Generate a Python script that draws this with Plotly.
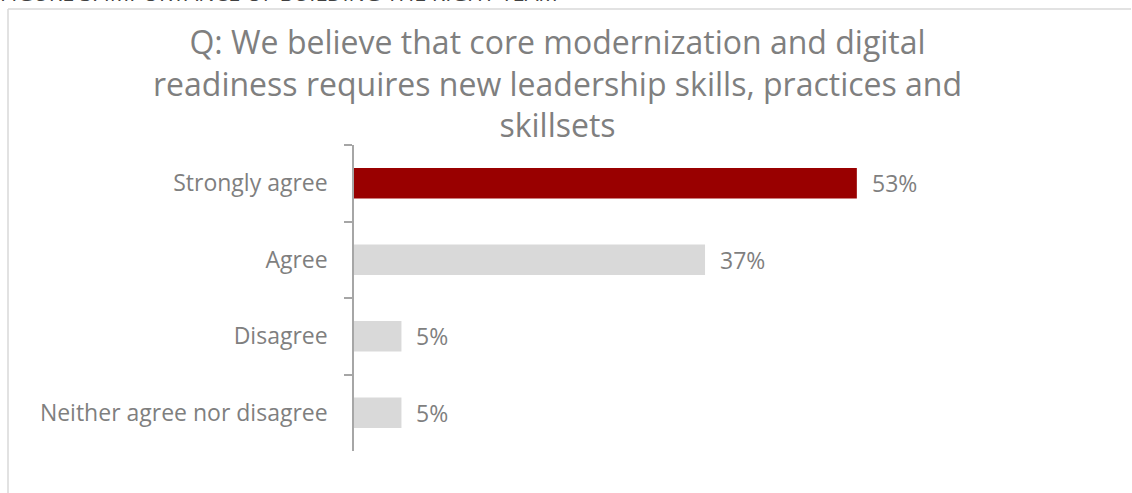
import plotly.graph_objects as go

categories = ["Strongly agree", "Agree", "Disagree", "Neither agree nor disagree"]
values = [53, 37, 5, 5]
colors = ["#990000", "#d9d9d9", "#d9d9d9", "#d9d9d9"]
value_labels = ["53%", "37%", "5%", "5%"]
title_text = ("Q: We believe that core modernization and digital<br>"
              "readiness requires new leadership skills, practices and<br>"
              "skillsets")
caption_text = "FIGURE 3: IMPORTANCE OF BUILDING THE RIGHT TEAM"

W, H = 1132, 493
L, R, T, B = 354, 19, 145, 42
pw, ph = W - L - R, H - T - B

def px_x(x):
    return (x - L) / pw

def px_y(y):
    return (H - B - y) / ph

FONT = "Open Sans"
GRAY = "#7f7f7f"

fig = go.Figure()
fig.add_trace(go.Bar(
    x=values, y=categories, orientation="h",
    marker=dict(color=colors, line=dict(width=0)),
    width=0.4, hoverinfo="skip",
))

annotations = []
for c, v, t in zip(categories, values, value_labels):
    annotations.append(dict(x=v, y=c, xref="x", yref="y", text=t, showarrow=False,
                            xanchor="left", yanchor="middle", xshift=13,
                            font=dict(family=FONT, size=23, color=GRAY)))
annotations.append(dict(x=px_x(557), y=px_y(83), xref="paper", yref="paper",
                        text=title_text, showarrow=False, xanchor="center", yanchor="middle",
                        font=dict(family=FONT, size=32, color=GRAY)))
annotations.append(dict(x=px_x(-2), y=px_y(9), xref="paper", yref="paper",
                        text=caption_text, showarrow=False, xanchor="left", yanchor="bottom",
                        font=dict(family=FONT, size=21.7, color="#404040")))

shapes = [
    dict(type="line", xref="paper", yref="paper", x0=px_x(8), x1=px_x(8), y0=px_y(9), y1=px_y(520),
         line=dict(color="#d9d9d9", width=1.5)),
    dict(type="line", xref="paper", yref="paper", x0=px_x(8), x1=px_x(1131), y0=px_y(9), y1=px_y(9),
         line=dict(color="#d9d9d9", width=1.5)),
]

fig.update_layout(
    width=W, height=H,
    margin=dict(l=L, r=R, t=T, b=B, pad=0),
    paper_bgcolor="white", plot_bgcolor="white",
    showlegend=False,
    annotations=annotations, shapes=shapes,
    bargap=0.6,
    xaxis=dict(range=[0, 80], visible=False, fixedrange=True),
    yaxis=dict(
        categoryorder="array", categoryarray=categories, autorange="reversed",
        showline=True, linecolor="#a6a6a6", linewidth=1.5,
        ticks="outside", ticklen=8, tickcolor="#a6a6a6", tickwidth=1.5,
        tickson="boundaries", showgrid=False, zeroline=False,
        ticklabelstandoff=20, fixedrange=True,
        tickfont=dict(family=FONT, size=23, color=GRAY),
    ),
)

fig.write_html("out.html", config={"displayModeBar": False},
               post_script="document.body.style.margin='0';document.body.style.overflow='hidden';")
